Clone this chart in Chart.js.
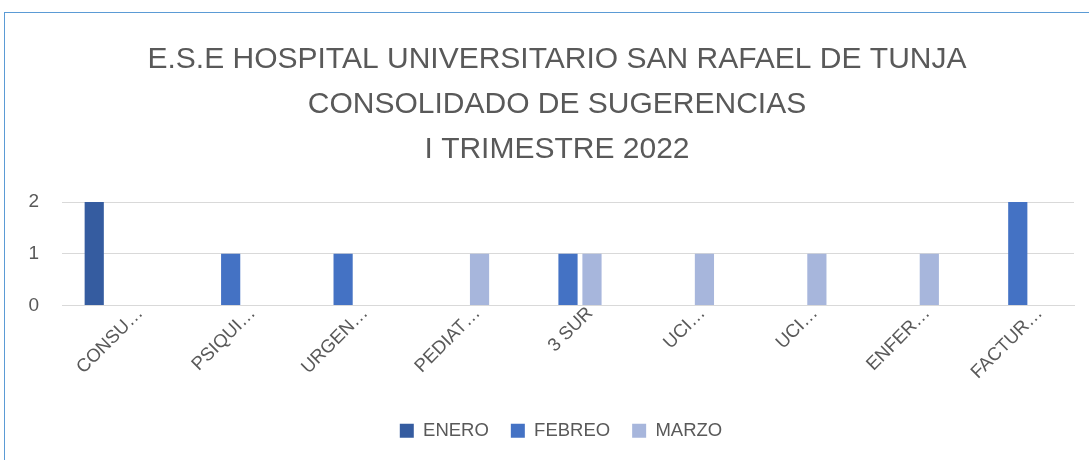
<!DOCTYPE html>
<html>
<head>
<meta charset="utf-8">
<script src="https://cdn.jsdelivr.net/npm/chart.js@4/dist/chart.umd.min.js"></script>
<style>
  html, body { margin: 0; padding: 0; background: #fff; overflow: hidden; }
  #wrap { position: relative; width: 1089px; height: 460px; }
  #frame { position: absolute; left: 4px; top: 12px; width: 2000px; height: 2000px;
           border-left: 1.5px solid #5B9BD5; border-top: 1.5px solid #5B9BD5; box-sizing: border-box; }
  canvas { position: absolute; left: 0; top: 0; }
</style>
</head>
<body>
<div id="wrap">
  <div id="frame"></div>
  <canvas id="c" width="1089" height="460"></canvas>
</div>
<script>
const titleLines = ["E.S.E HOSPITAL UNIVERSITARIO SAN RAFAEL DE TUNJA", "CONSOLIDADO DE SUGERENCIAS", "I TRIMESTRE 2022"];
const categories = ["CONSU\u2026", "PSIQUI\u2026", "URGEN\u2026", "PEDIAT\u2026", "3 SUR", "UCI\u2026", "UCI\u2026", "ENFER\u2026", "FACTUR\u2026"];
const enero  = [2, 0, 0, 0, 0, 0, 0, 0, 0];
const febreo = [0, 1, 1, 0, 1, 0, 0, 0, 2];
const marzo  = [0, 0, 0, 1, 1, 1, 1, 1, 0];
const yTicks = [0, 1, 2];

const FONT = "'Liberation Sans', Arial, sans-serif";
const TXT = '#595959';

// Shift title and legend centring to match the (wider, cropped) original chart box
const centrePlugin = {
  id: 'centrePlugin',
  afterLayout(chart) {
    if (chart.titleBlock) { chart.titleBlock.left = 40; }
    if (chart.legend) { chart.legend.left = 48; }
  }
};

new Chart(document.getElementById('c'), {
  type: 'bar',
  data: {
    labels: categories,
    datasets: [
      { label: 'ENERO',  data: enero,  backgroundColor: '#355CA0' },
      { label: 'FEBREO', data: febreo, backgroundColor: '#4472C4' },
      { label: 'MARZO',  data: marzo,  backgroundColor: '#A7B6DC' }
    ]
  },
  plugins: [centrePlugin],
  options: {
    responsive: false,
    animation: false,
    devicePixelRatio: 1,
    datasets: { bar: { categoryPercentage: 0.64, barPercentage: 0.8 } },
    layout: { padding: { left: 25, right: 15, top: 0, bottom: 10 } },
    plugins: {
      title: {
        display: true,
        text: titleLines,
        color: TXT,
        font: { family: FONT, size: 30, weight: 'normal', lineHeight: 1.5 },
        padding: { top: 37, bottom: 30 }
      },
      legend: {
        position: 'bottom',
        labels: {
          color: TXT,
          font: { family: FONT, size: 18.5 },
          boxWidth: 14, boxHeight: 14,
          padding: 22
        }
      },
      tooltip: { enabled: false }
    },
    scales: {
      x: {
        grid: { display: false, drawTicks: false },
        border: { display: true, color: '#D9D9D9', width: 1 },
        ticks: {
          color: TXT, font: { family: FONT, size: 18.5 },
          minRotation: 45, maxRotation: 45, autoSkip: false,
          labelOffset: 22, padding: -3
        },
        afterFit: (s) => { s.height = 94; }
      },
      y: {
        min: 0, max: 2,
        afterBuildTicks: (s) => { s.ticks = yTicks.map(v => ({ value: v })); },
        grid: { color: '#D9D9D9', lineWidth: 1, drawTicks: false },
        border: { display: false },
        ticks: { color: TXT, font: { family: FONT, size: 19 }, padding: 23 },
        afterFit: (s) => { s.width = 37; }
      }
    }
  }
});
</script>
</body>
</html>
